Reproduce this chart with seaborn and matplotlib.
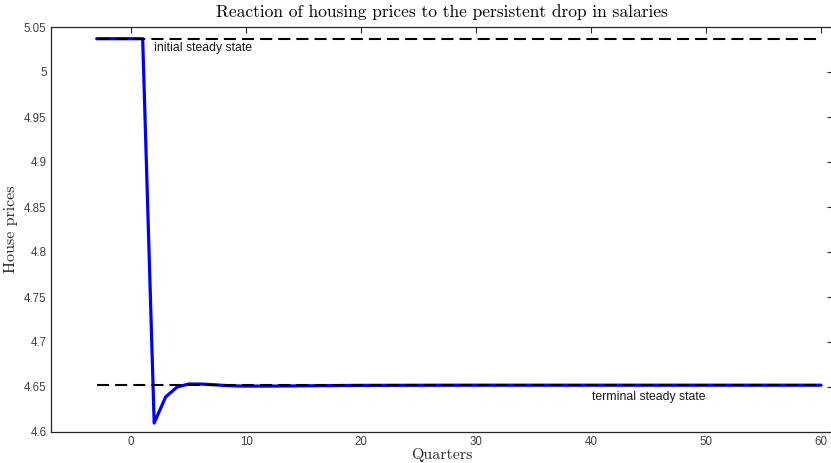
import numpy as np
import pandas as pd
import matplotlib
matplotlib.use("Agg")
import matplotlib.pyplot as plt
from matplotlib.ticker import FuncFormatter
import seaborn as sns

# ---- data ----
quarters = [-3, -2, -1, 0, 1, 2, 3, 4, 5, 6, 7, 8, 9, 10, 12, 15, 20, 30, 40, 50, 60]
house_prices = [5.037, 5.037, 5.037, 5.037, 5.037, 4.610, 4.639, 4.650, 4.6533, 4.6533,
                4.6527, 4.6518, 4.6512, 4.6510, 4.6510, 4.6513, 4.6518, 4.6520, 4.6520, 4.6520, 4.6520]
ss_x = [-3, 60]
initial_ss = [5.037, 5.037]
terminal_ss = [4.652, 4.652]
x_ticks = [0, 10, 20, 30, 40, 50, 60]
y_ticks = [4.6, 4.65, 4.7, 4.75, 4.8, 4.85, 4.9, 4.95, 5.0, 5.05]
title = "Reaction of housing prices to the persistent drop in salaries"
xlabel = "Quarters"
ylabel = "House prices"
label_initial = "initial steady state"
label_terminal = "terminal steady state"

sns.set_style("white")
plt.rcParams['font.family'] = ['Liberation Sans', 'DejaVu Sans']

W, H = 831, 463
fig = plt.figure(figsize=(W / 100, H / 100), dpi=100)
left, right, top, bottom = 50.7, 832.5, 27, 432
ax = fig.add_axes([left / W, 1 - bottom / H, (right - left) / W, (bottom - top) / H])

df = pd.DataFrame({"q": quarters, "p": house_prices})
sns.lineplot(data=df, x="q", y="p", ax=ax, color=(0, 0, 1), linewidth=2.3, zorder=2)
sns.lineplot(x=ss_x, y=initial_ss, ax=ax, color="black", linewidth=1.5, zorder=3,
             dashes=False)
sns.lineplot(x=ss_x, y=terminal_ss, ax=ax, color="black", linewidth=1.5, zorder=3,
             dashes=False)
for ln in ax.get_lines()[1:]:
    ln.set_dashes((5.8, 2.9))

ax.text(2.0, 5.0262, label_initial, fontsize=8.8, color="#1a1a1a", va="center", ha="left")
ax.text(40.1, 4.6385, label_terminal, fontsize=8.8, color="#1a1a1a", va="center", ha="left")

ax.set_xlim(-7, 61)
ax.set_ylim(4.6, 5.05)
ax.set_xticks(x_ticks)
ax.set_yticks(y_ticks)
ax.yaxis.set_major_formatter(FuncFormatter(lambda v, p: "%g" % round(v, 2)))
ax.tick_params(direction="in", top=True, right=True, length=4, width=0.8,
               colors="#262626", labelcolor="#404040", labelsize=8.3, pad=3)
for s in ax.spines.values():
    s.set_color("#262626")
    s.set_linewidth(0.9)

ax.set_title(title, fontfamily="cmr10", fontsize=12.5, color="black", pad=7)
ax.set_xlabel(xlabel, fontfamily="cmr10", fontsize=11.5, color="#262626", labelpad=0)
ax.set_ylabel(ylabel, fontfamily="cmr10", fontsize=11.5, color="#262626", labelpad=4)

fig.savefig("out.png", dpi=100)
